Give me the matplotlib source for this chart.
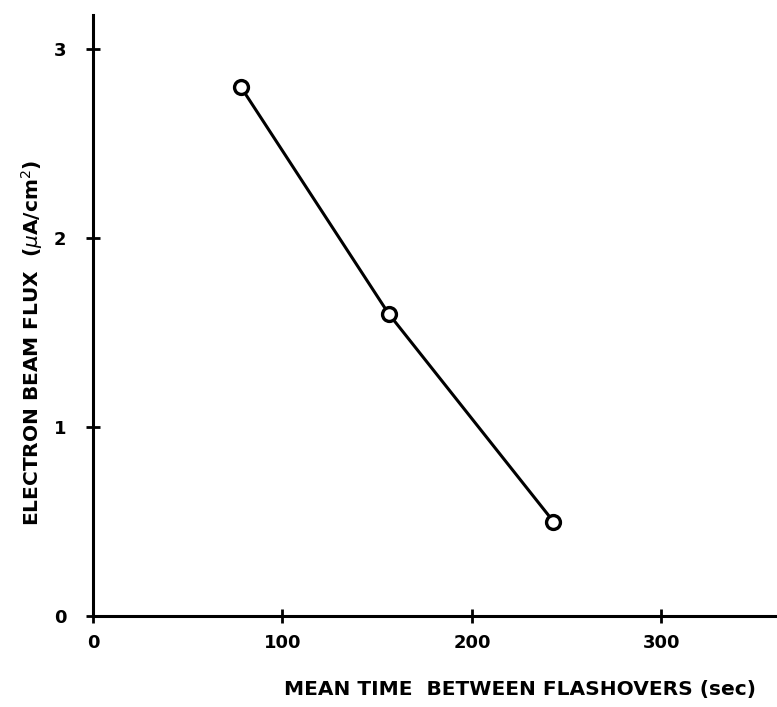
"""
전자빔 플럭스 vs 평균 플래시오버 간격 그래프
"""
import matplotlib
matplotlib.use('Agg')
import matplotlib.pyplot as plt

plt.rcParams['font.family'] = 'DejaVu Sans'
plt.rcParams['mathtext.fontset'] = 'dejavusans'

# 데이터
mean_time = [78, 156, 243]        # sec
beam_flux = [2.8, 1.6, 0.5]       # uA/cm^2

x_ticks = [0, 100, 200, 300]
y_ticks = [0, 1, 2, 3]

x_label = 'MEAN TIME  BETWEEN FLASHOVERS (sec)'
y_label = r'ELECTRON BEAM FLUX  ($\mu$A/cm$^2$)'

fig = plt.figure(figsize=(7.77, 7.07), dpi=100)
ax = fig.add_axes([93 / 777, 91 / 707, 684 / 777, 601 / 707])

# 곡선 + 빈 원 마커
ax.plot(mean_time, beam_flux, color='black', linewidth=2.2,
        marker='o', markersize=10, markerfacecolor='white',
        markeredgecolor='black', markeredgewidth=2.4, zorder=3)

ax.set_xlim(0, 361)
ax.set_ylim(0, 3.18)

for side in ['top', 'right']:
    ax.spines[side].set_visible(False)
for side in ['left', 'bottom']:
    ax.spines[side].set_linewidth(2.2)
    ax.spines[side].set_color('black')

ax.set_xticks(x_ticks)
ax.set_yticks(y_ticks)
ax.tick_params(axis='both', direction='inout', length=10, width=2,
               labelsize=13, colors='black')
ax.tick_params(axis='x', pad=8)
ax.tick_params(axis='y', pad=14)
for lbl in ax.get_xticklabels() + ax.get_yticklabels():
    lbl.set_fontweight('bold')

fig.text(520 / 777, 1 - 690 / 707, x_label, ha='center', va='center',
         fontsize=14.5, fontweight='bold')
fig.text(32 / 777, 1 - 343 / 707, y_label, ha='center', va='center',
         rotation=90, fontsize=14.5, fontweight='bold')

plt.savefig('out.png', dpi=100)
